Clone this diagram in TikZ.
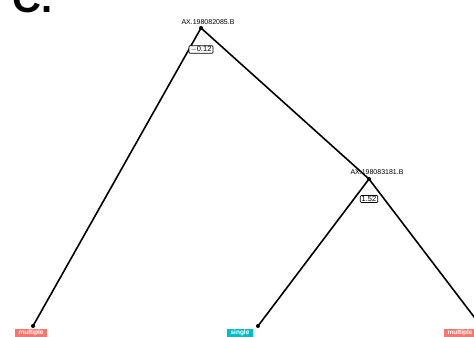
\documentclass[tikz,border=0pt]{standalone}
\usepackage{fontspec}
\setmainfont{Liberation Sans}
\definecolor{multi}{HTML}{F8766D}
\definecolor{sing}{HTML}{00BFC4}
\begin{document}
\begin{tikzpicture}[x=1pt,y=-1pt,
  dot/.style={circle,fill=black,inner sep=0pt,minimum size=4pt},
  edge/.style={line width=1.6pt,black},
  nlabel/.style={font=\fontsize{7}{8}\selectfont,inner sep=0pt},
  elabel/.style={draw=black,fill=white,line width=0.7pt,rounded corners=1pt,font=\fontsize{7.5}{8}\selectfont,inner xsep=1.5pt,inner ysep=0.8pt},
  leaf/.style={text=white,font=\bfseries\fontsize{6.5}{7}\selectfont,inner xsep=3.5pt,inner ysep=0.7pt,text height=5pt,text depth=1.3pt,anchor=north}]
\useasboundingbox (0,0) rectangle (474,337);
\fill[white] (0,0) rectangle (474,337);
\node[font=\bfseries\fontsize{40}{40}\selectfont,anchor=base west,inner sep=0pt] (title) at (12,13) {C.};
% tree nodes
\node[dot] (root) at (201,28) {};
\node[dot] (mid) at (369,179) {};
\node[dot] (l1) at (33,326) {};
\node[dot] (l2) at (258,326) {};
\node[dot] (l3) at (481,326) {};
% edges
\draw[edge] (root.center) -- (l1.center);
\draw[edge] (root.center) -- (mid.center);
\draw[edge] (mid.center) -- (l2.center);
\draw[edge] (mid.center) -- (l3.center);
% node labels
\node[nlabel] (rl) at (208,22) {AX.198082085.B};
\node[nlabel] (ml) at (377,172) {AX.198083181.B};
\node[elabel] (e1) at (201,49.5) {$-$0.12};
\node[elabel] (e2) at (369,199) {1.52};
% leaf labels
\node[leaf,fill=multi] (t1) at (31,329) {multiple};
\node[leaf,fill=sing] (t2) at (240,329) {single};
\node[leaf,fill=multi] (t3) at (460,329) {multiple};
\end{tikzpicture}
\end{document}
